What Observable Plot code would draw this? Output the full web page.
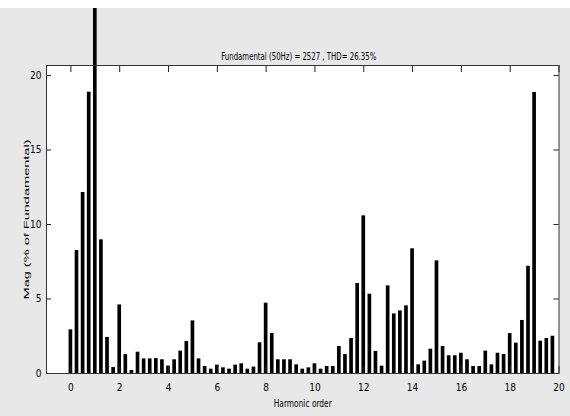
<!DOCTYPE html>
<html><head><meta charset="utf-8">
<script src="https://cdn.jsdelivr.net/npm/d3@7"></script>
<script src="https://cdn.jsdelivr.net/npm/@observablehq/plot@0.6"></script>
<style>
body{margin:0;background:#fff;}
#chart{padding-top:8px;}
</style></head><body><div id="chart"></div>
<script>
const orders = [0,0.25,0.5,0.75,1,1.25,1.5,1.75,2,2.25,2.5,2.75,3,3.25,3.5,3.75,4,4.25,4.5,4.75,
  5,5.25,5.5,5.75,6,6.25,6.5,6.75,7,7.25,7.5,7.75,8,8.25,8.5,8.75,9,9.25,9.5,9.75,
  10,10.25,10.5,10.75,11,11.25,11.5,11.75,12,12.25,12.5,12.75,13,13.25,13.5,13.75,14,14.25,14.5,14.75,
  15,15.25,15.5,15.75,16,16.25,16.5,16.75,17,17.25,17.5,17.75,18,18.25,18.5,18.75,19,19.25,19.5,19.75];
const magnitudes = [2.93,8.25,12.15,18.88,100,8.97,2.42,0.4,4.6,1.27,0.2,1.43,0.98,0.98,1.0,0.92,0.5,0.92,1.5,2.15,
  3.53,0.98,0.47,0.29,0.56,0.38,0.29,0.56,0.65,0.29,0.43,2.06,4.72,2.68,0.92,0.92,0.92,0.58,0.29,0.38,
  0.65,0.29,0.47,0.47,1.81,1.27,2.35,6.04,10.58,5.32,1.48,0.49,5.88,4.0,4.2,4.54,8.37,0.58,0.83,1.63,
  7.56,1.81,1.19,1.19,1.36,0.92,0.47,0.47,1.5,0.58,1.36,1.27,2.68,2.04,3.56,7.2,18.86,2.17,2.35,2.5];
const xTicks = [0,2,4,6,8,10,12,14,16,18,20];
const yTicks = [0,5,10,15,20];
const titleText = "Fundamental (50Hz) = 2527 , THD= 26.35%";
const xLabel = "Harmonic order";
const yLabel = "Mag (% of Fundamental)";

const data = orders.map((h, i) => ({h, v: magnitudes[i]}));
const W = 570, H = 408, mt = 57, mb = 43, ml = 46, mr = 11.5;
const fw = W - ml - mr, fh = H - mt - mb;
const font = '"Liberation Sans Narrow","DejaVu Sans Condensed","Arial Narrow","Liberation Sans",sans-serif';

const plot = Plot.plot({
  width: W, height: H,
  marginTop: mt, marginBottom: mb, marginLeft: ml, marginRight: mr,
  style: {background: "#e8e8e8", fontFamily: font, fontSize: "10px", color: "#000", overflow: "hidden"},
  x: {domain: [-1, 20]},
  y: {domain: [0, 20.67]},
  marks: [
    Plot.frame({fill: "white"}),
    Plot.rectY(data, {x1: d => d.h - 0.075, x2: d => d.h + 0.075, y: "v", fill: "black"}),
    Plot.tickX(xTicks, {x: d => d, stroke: "#222", insetBottom: fh - 7}),
    Plot.tickX(xTicks, {x: d => d, stroke: "#222", insetTop: fh - 7}),
    Plot.tickY(yTicks, {y: d => d, stroke: "#222", insetRight: fw - 5}),
    Plot.tickY(yTicks, {y: d => d, stroke: "#222", insetLeft: fw - 5}),
    Plot.axisX(xTicks, {tickSize: 0, tickPadding: 10, label: null}),
    Plot.axisY(yTicks, {tickSize: 0, tickPadding: 5, label: null}),
    Plot.frame({stroke: "#333"}),
    Plot.text([titleText], {frameAnchor: "top", dy: -13, dx: -4, fontSize: 11}),
    Plot.text([xLabel], {frameAnchor: "bottom", dy: 33, fontSize: 11}),
    Plot.text([yLabel], {frameAnchor: "left", textAnchor: "middle", dx: -20, rotate: -90, fontSize: 11, fontFamily: '"Liberation Sans",sans-serif'})
  ]
});

for (const t of plot.querySelectorAll("text")) {
  if (t.textContent === titleText) { t.setAttribute("textLength", 155); t.setAttribute("lengthAdjust", "spacingAndGlyphs"); }
  if (t.textContent === xLabel) { t.setAttribute("textLength", 58); t.setAttribute("lengthAdjust", "spacingAndGlyphs"); }
  if (t.textContent === yLabel) {
    t.setAttribute("textLength", 160); t.setAttribute("lengthAdjust", "spacingAndGlyphs");
    const tr = t.getAttribute("transform");
    if (tr && tr.includes("rotate(")) t.setAttribute("transform", tr.replace("rotate(", "scale(0.65,1) rotate("));
  }
}
document.getElementById("chart").appendChild(plot);
</script></body></html>
